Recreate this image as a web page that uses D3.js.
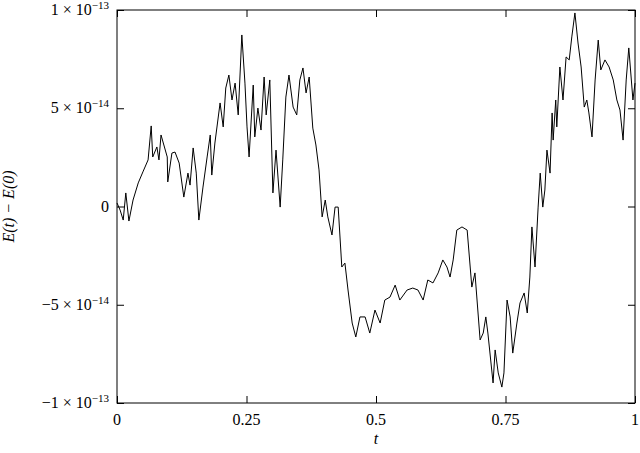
<!DOCTYPE html>
<html>
<head>
<meta charset="utf-8">
<script src="https://cdn.jsdelivr.net/npm/d3@7"></script>
<style>
  body { margin: 0; background: #fff; }
  text { font-family: "Liberation Serif", "DejaVu Serif", serif; font-size: 16px; fill: #000; }
</style>
</head>
<body>
<svg id="chart" width="640" height="453"></svg>
<script>
// t values and energy drift (units of 1e-14)
const tValues = [0,.006,.012,.017,.023,.031,.041,.050,.060,.066,.069,.077,.081,.085,.097,.098,.106,.112,.120,.129,.137,.141,.147,.153,.158,.166,.174,.180,.183,.189,.199,.205,.210,.216,.222,.228,.234,.241,.247,.251,.255,.263,.266,.272,.278,.284,.288,.295,.301,.307,.315,.320,.326,.332,.340,.347,.353,.359,.365,.371,.378,.384,.390,.396,.402,.407,.415,.421,.427,.434,.440,.446,.454,.461,.469,.479,.488,.498,.508,.517,.527,.537,.546,.560,.571,.581,.591,.600,.610,.620,.629,.637,.643,.649,.656,.666,.676,.685,.691,.701,.707,.712,.716,.726,.730,.736,.743,.747,.753,.759,.764,.772,.778,.786,.792,.797,.801,.807,.813,.817,.822,.826,.830,.836,.840,.842,.847,.849,.855,.861,.867,.873,.878,.884,.890,.896,.902,.907,.911,.917,.923,.929,.934,.942,.950,.958,.965,.971,.977,.983,.988,.996,1];
const drift = [.18,-.18,-.69,.69,-.74,.33,1.2,1.76,2.37,4.1,2.52,3.03,2.37,3.64,2.52,1.25,2.72,2.77,2.21,.48,1.7,1.09,2.98,1.7,-.69,.99,2.52,3.64,1.6,3.23,5.27,4.05,6.03,6.69,5.42,6.28,4.66,8.73,6.28,4.05,2.52,6.18,3.54,5.01,3.89,6.59,4.66,6.44,.69,2.87,-.03,2.37,5.57,6.69,5.06,4.66,6.44,7.05,5.78,6.59,3.99,3.13,1.86,-.53,.33,-.53,-1.45,-.03,-.03,-3.08,-2.88,-4.25,-5.93,-6.64,-5.62,-5.62,-6.44,-5.27,-5.93,-4.76,-4.61,-4,-4.76,-4.25,-4.15,-4.25,-4.76,-3.74,-3.89,-3.38,-2.72,-3.08,-3.59,-2.72,-1.2,-1.04,-1.2,-4.1,-3.38,-6.79,-6.44,-5.62,-6.44,-8.98,-7.3,-8.47,-9.19,-8.47,-4.76,-5.62,-7.46,-5.93,-4.91,-4.4,-5.42,-3.59,-1.04,-3.08,-.03,1.7,-.03,.84,2.87,1.7,4.76,3.38,5.42,4.05,7.1,5.42,7.61,7.46,8.63,9.85,8.32,7.1,5.06,5.42,4.76,3.54,6.44,8.47,6.95,7.46,7.1,6.44,5.42,4.91,3.38,6.44,8.07,5.42,6.28];
const xTicks = [0, 0.25, 0.5, 0.75, 1];
const xTickLabels = ["0", "0.25", "0.5", "0.75", "1"];
const yTicks = [-10, -5, 0, 5, 10];
const yTickLabels = [["\u22121", "\u221213"], ["\u22125", "\u221214"], ["0", null], ["5", "\u221214"], ["1", "\u221213"]];

const svg = d3.select('#chart');
const m = { left: 117, right: 635, top: 10, bottom: 403 };

const x = d3.scaleLinear().domain([0, 1]).range([m.left, m.right]);
const y = d3.scaleLinear().domain([-10, 10]).range([m.bottom, m.top]);

const tick = 7;

// ticks on all four sides, pointing inwards
svg.append('g')
    .attr('transform', `translate(0,${m.bottom})`)
    .call(d3.axisBottom(x).tickValues(xTicks).tickSize(-tick).tickFormat(''))
    .call(g => g.select('.domain').remove());
svg.append('g')
    .attr('transform', `translate(0,${m.top})`)
    .call(d3.axisTop(x).tickValues(xTicks).tickSize(-tick).tickFormat(''))
    .call(g => g.select('.domain').remove());
svg.append('g')
    .attr('transform', `translate(${m.left},0)`)
    .call(d3.axisLeft(y).tickValues(yTicks).tickSize(-tick).tickFormat(''))
    .call(g => g.select('.domain').remove());
svg.append('g')
    .attr('transform', `translate(${m.right},0)`)
    .call(d3.axisRight(y).tickValues(yTicks).tickSize(-tick).tickFormat(''))
    .call(g => g.select('.domain').remove());
svg.selectAll('.tick line').attr('stroke', '#000');

svg.append('rect')
    .attr('x', m.left).attr('y', m.top)
    .attr('width', m.right - m.left).attr('height', m.bottom - m.top)
    .attr('fill', 'none').attr('stroke', '#000').attr('stroke-width', 1);

svg.selectAll('text.xl')
    .data(xTicks)
    .join('text')
    .classed('xl', true)
    .attr('x', d => x(d))
    .attr('y', m.bottom + 22)
    .attr('text-anchor', 'middle')
    .text((d, i) => xTickLabels[i]);

svg.selectAll('text.yl')
    .data(yTicks)
    .join('text')
    .classed('yl', true)
    .attr('x', m.left - 8)
    .attr('y', d => y(d) + 5)
    .attr('text-anchor', 'end')
    .each(function(d, i) {
        const [mant, e] = yTickLabels[i];
        const t = d3.select(this);
        if (!e) { t.text(mant); return; }
        t.append('tspan').text(`${mant} \u00d7 10`);
        t.append('tspan').attr('dy', -6).attr('font-size', 11).text(e);
    });

svg.append('text')
    .attr('x', (m.left + m.right) / 2)
    .attr('y', 444)
    .attr('text-anchor', 'middle')
    .attr('font-style', 'italic')
    .text('t');

svg.append('text')
    .attr('transform', `translate(14,${(m.top + m.bottom) / 2}) rotate(-90)`)
    .attr('text-anchor', 'middle')
    .attr('font-style', 'italic')
    .text('E(t) \u2212 E(0)');

const line = d3.line()
    .x((d, i) => x(tValues[i]))
    .y(d => y(d));

svg.append('path')
    .datum(drift)
    .attr('d', line)
    .attr('fill', 'none')
    .attr('stroke', '#000')
    .attr('stroke-width', 1);
</script>
</body>
</html>
